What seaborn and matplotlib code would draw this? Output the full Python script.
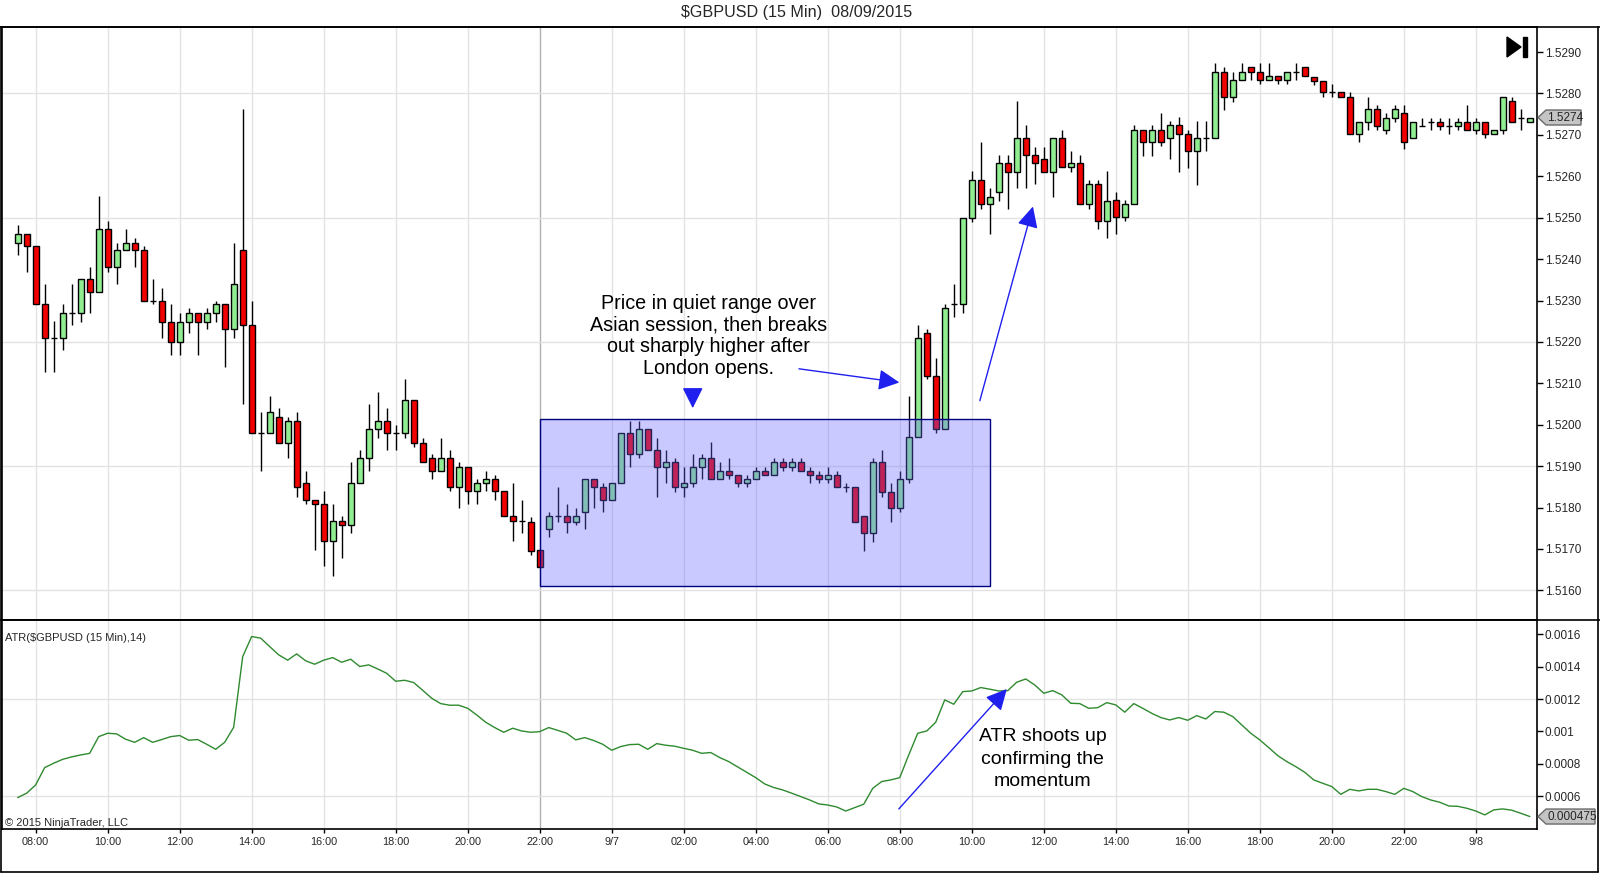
import numpy as np
import matplotlib
matplotlib.use("Agg")
import matplotlib.pyplot as plt
import seaborn as sns
from matplotlib.patches import Rectangle, Polygon
from matplotlib.lines import Line2D
from matplotlib.transforms import IdentityTransform

# 15 min bars, 9/6 07:30 -> 9/8 01:30
opens = [
    1.52440, 1.52461, 1.52431, 1.52291, 1.52209, 1.52209, 1.52270, 1.52269, 1.52351, 1.52320,
    1.52472, 1.52380, 1.52421, 1.52440, 1.52421, 1.52300, 1.52300, 1.52249, 1.52199, 1.52249,
    1.52269, 1.52249, 1.52269, 1.52291, 1.52230, 1.52421, 1.52240, 1.51979, 1.51979, 1.52018,
    1.51957, 1.52008, 1.51858, 1.51817, 1.51808, 1.51718, 1.51767, 1.51757, 1.51858, 1.51919,
    1.51989, 1.52008, 1.51979, 1.51979, 1.52059, 1.51957, 1.51919, 1.51888, 1.51919, 1.51849,
    1.51899, 1.51840, 1.51858, 1.51868, 1.51840, 1.51779, 1.51767, 1.51766, 1.51698, 1.51747,
    1.51779, 1.51779, 1.51766, 1.51788, 1.51868, 1.51849, 1.51818, 1.51858, 1.51979, 1.51929,
    1.51989, 1.51939, 1.51899, 1.51909, 1.51849, 1.51858, 1.51899, 1.51919, 1.51868, 1.51888,
    1.51878, 1.51858, 1.51868, 1.51888, 1.51878, 1.51909, 1.51899, 1.51909, 1.51888, 1.51878,
    1.51868, 1.51878, 1.51849, 1.51849, 1.51779, 1.51738, 1.51909, 1.51838, 1.51798, 1.51868,
    1.51971, 1.52221, 1.52118, 1.51989, 1.52291, 1.52291, 1.52500, 1.52591, 1.52532, 1.52561,
    1.52631, 1.52611, 1.52692, 1.52651, 1.52641, 1.52611, 1.52692, 1.52622, 1.52631, 1.52532,
    1.52581, 1.52492, 1.52543, 1.52501, 1.52533, 1.52712, 1.52682, 1.52712, 1.52692, 1.52724,
    1.52701, 1.52662, 1.52692, 1.52692, 1.52853, 1.52792, 1.52833, 1.52863, 1.52853, 1.52833,
    1.52842, 1.52833, 1.52853, 1.52863, 1.52841, 1.52831, 1.52803, 1.52803, 1.52792, 1.52702,
    1.52732, 1.52762, 1.52712, 1.52742, 1.52752, 1.52692, 1.52722, 1.52732, 1.52732, 1.52722,
    1.52722, 1.52732, 1.52712, 1.52732, 1.52702, 1.52712, 1.52782, 1.52740, 1.52732,
]
highs = [
    1.52482, 1.52461, 1.52431, 1.52341, 1.52250, 1.52291, 1.52341, 1.52351, 1.52380, 1.52552,
    1.52492, 1.52440, 1.52472, 1.52450, 1.52431, 1.52351, 1.52329, 1.52291, 1.52269, 1.52281,
    1.52269, 1.52281, 1.52300, 1.52291, 1.52440, 1.52762, 1.52300, 1.52030, 1.52069, 1.52040,
    1.52018, 1.52030, 1.51888, 1.51817, 1.51840, 1.51808, 1.51779, 1.51909, 1.51939, 1.52050,
    1.52078, 1.52040, 1.51999, 1.52110, 1.52059, 1.51969, 1.51929, 1.51969, 1.51939, 1.51909,
    1.51899, 1.51868, 1.51888, 1.51878, 1.51840, 1.51858, 1.51818, 1.51778, 1.51698, 1.51788,
    1.51849, 1.51808, 1.51798, 1.51868, 1.51868, 1.51858, 1.51858, 1.51979, 1.52010, 1.52010,
    1.51989, 1.51969, 1.51939, 1.51919, 1.51899, 1.51929, 1.51929, 1.51959, 1.51909, 1.51919,
    1.51878, 1.51878, 1.51899, 1.51899, 1.51919, 1.51919, 1.51919, 1.51919, 1.51899, 1.51888,
    1.51899, 1.51888, 1.51858, 1.51849, 1.51779, 1.51919, 1.51939, 1.51858, 1.51888, 1.52069,
    1.52240, 1.52230, 1.52160, 1.52291, 1.52341, 1.52500, 1.52613, 1.52682, 1.52571, 1.52651,
    1.52651, 1.52782, 1.52724, 1.52671, 1.52671, 1.52692, 1.52712, 1.52662, 1.52651, 1.52591,
    1.52591, 1.52613, 1.52563, 1.52543, 1.52724, 1.52712, 1.52724, 1.52754, 1.52734, 1.52744,
    1.52712, 1.52734, 1.52734, 1.52873, 1.52863, 1.52853, 1.52873, 1.52863, 1.52873, 1.52873,
    1.52842, 1.52853, 1.52873, 1.52863, 1.52841, 1.52831, 1.52823, 1.52803, 1.52803, 1.52732,
    1.52792, 1.52772, 1.52752, 1.52772, 1.52772, 1.52732, 1.52742, 1.52742, 1.52742, 1.52742,
    1.52742, 1.52772, 1.52742, 1.52732, 1.52712, 1.52792, 1.52792, 1.52762, 1.52742,
]
lows = [
    1.52411, 1.52370, 1.52291, 1.52128, 1.52128, 1.52180, 1.52240, 1.52249, 1.52269, 1.52320,
    1.52370, 1.52341, 1.52421, 1.52380, 1.52300, 1.52291, 1.52209, 1.52168, 1.52168, 1.52221,
    1.52168, 1.52230, 1.52249, 1.52139, 1.52209, 1.52050, 1.51979, 1.51887, 1.51979, 1.51957,
    1.51919, 1.51826, 1.51808, 1.51697, 1.51659, 1.51635, 1.51677, 1.51738, 1.51858, 1.51888,
    1.51969, 1.51939, 1.51939, 1.51969, 1.51947, 1.51909, 1.51868, 1.51888, 1.51840, 1.51798,
    1.51808, 1.51808, 1.51840, 1.51818, 1.51779, 1.51718, 1.51738, 1.51685, 1.51657, 1.51728,
    1.51766, 1.51738, 1.51758, 1.51747, 1.51798, 1.51788, 1.51818, 1.51858, 1.51899, 1.51919,
    1.51939, 1.51826, 1.51858, 1.51838, 1.51826, 1.51849, 1.51868, 1.51868, 1.51868, 1.51868,
    1.51849, 1.51849, 1.51868, 1.51878, 1.51878, 1.51888, 1.51888, 1.51888, 1.51858, 1.51858,
    1.51858, 1.51849, 1.51838, 1.51766, 1.51695, 1.51717, 1.51826, 1.51766, 1.51788, 1.51858,
    1.51971, 1.52110, 1.51979, 1.51989, 1.52259, 1.52269, 1.52490, 1.52520, 1.52460, 1.52541,
    1.52520, 1.52571, 1.52571, 1.52581, 1.52611, 1.52551, 1.52622, 1.52611, 1.52532, 1.52520,
    1.52472, 1.52450, 1.52460, 1.52491, 1.52533, 1.52649, 1.52649, 1.52672, 1.52641, 1.52611,
    1.52621, 1.52579, 1.52662, 1.52692, 1.52760, 1.52780, 1.52833, 1.52833, 1.52822, 1.52833,
    1.52822, 1.52822, 1.52833, 1.52842, 1.52821, 1.52792, 1.52792, 1.52792, 1.52702, 1.52682,
    1.52712, 1.52712, 1.52702, 1.52732, 1.52667, 1.52692, 1.52722, 1.52712, 1.52712, 1.52702,
    1.52712, 1.52712, 1.52702, 1.52692, 1.52702, 1.52702, 1.52732, 1.52712, 1.52732,
]
closes = [
    1.52461, 1.52431, 1.52291, 1.52209, 1.52209, 1.52269, 1.52270, 1.52351, 1.52320, 1.52472,
    1.52380, 1.52421, 1.52440, 1.52421, 1.52300, 1.52300, 1.52249, 1.52199, 1.52249, 1.52269,
    1.52249, 1.52269, 1.52291, 1.52230, 1.52341, 1.52240, 1.51979, 1.51979, 1.52030, 1.51957,
    1.52008, 1.51849, 1.51817, 1.51808, 1.51718, 1.51767, 1.51757, 1.51858, 1.51919, 1.51989,
    1.52008, 1.51979, 1.51979, 1.52059, 1.51957, 1.51909, 1.51888, 1.51919, 1.51849, 1.51899,
    1.51840, 1.51858, 1.51868, 1.51840, 1.51779, 1.51767, 1.51767, 1.51696, 1.51657, 1.51779,
    1.51779, 1.51766, 1.51779, 1.51868, 1.51849, 1.51818, 1.51858, 1.51979, 1.51929, 1.51989,
    1.51939, 1.51899, 1.51909, 1.51849, 1.51858, 1.51899, 1.51919, 1.51868, 1.51888, 1.51878,
    1.51858, 1.51868, 1.51888, 1.51878, 1.51909, 1.51899, 1.51909, 1.51888, 1.51878, 1.51868,
    1.51878, 1.51849, 1.51849, 1.51766, 1.51738, 1.51909, 1.51838, 1.51798, 1.51868, 1.51971,
    1.52209, 1.52118, 1.51989, 1.52281, 1.52291, 1.52500, 1.52591, 1.52532, 1.52551, 1.52631,
    1.52611, 1.52692, 1.52651, 1.52631, 1.52611, 1.52692, 1.52622, 1.52631, 1.52532, 1.52581,
    1.52492, 1.52541, 1.52501, 1.52533, 1.52712, 1.52682, 1.52712, 1.52682, 1.52724, 1.52701,
    1.52662, 1.52692, 1.52692, 1.52853, 1.52792, 1.52833, 1.52853, 1.52853, 1.52833, 1.52842,
    1.52833, 1.52853, 1.52853, 1.52842, 1.52831, 1.52803, 1.52803, 1.52792, 1.52702, 1.52732,
    1.52762, 1.52722, 1.52742, 1.52762, 1.52682, 1.52732, 1.52722, 1.52732, 1.52722, 1.52722,
    1.52732, 1.52712, 1.52732, 1.52702, 1.52712, 1.52792, 1.52732, 1.52740, 1.52742,
]
atr = [
    0.000592, 0.000619, 0.000670, 0.000777, 0.000804, 0.000828, 0.000843, 0.000855, 0.000865, 0.000968,
    0.000989, 0.000985, 0.000952, 0.000933, 0.000962, 0.000933, 0.000950, 0.000968, 0.000975, 0.000946,
    0.000950, 0.000921, 0.000890, 0.000933, 0.001026, 0.001462, 0.001586, 0.001576, 0.001524, 0.001473,
    0.001440, 0.001479, 0.001436, 0.001415, 0.001440, 0.001456, 0.001427, 0.001446, 0.001401, 0.001411,
    0.001386, 0.001359, 0.001310, 0.001316, 0.001302, 0.001254, 0.001205, 0.001172, 0.001162, 0.001162,
    0.001143, 0.001102, 0.001057, 0.001024, 0.000995, 0.001020, 0.001003, 0.000995, 0.000999, 0.001024,
    0.001007, 0.000989, 0.000948, 0.000962, 0.000944, 0.000921, 0.000884, 0.000907, 0.000919, 0.000921,
    0.000890, 0.000925, 0.000915, 0.000909, 0.000896, 0.000884, 0.000865, 0.000870, 0.000839, 0.000814,
    0.000781, 0.000748, 0.000715, 0.000676, 0.000654, 0.000639, 0.000619, 0.000598, 0.000577, 0.000553,
    0.000546, 0.000534, 0.000509, 0.000530, 0.000551, 0.000649, 0.000691, 0.000701, 0.000715, 0.000855,
    0.000989, 0.001003, 0.001057, 0.001195, 0.001168, 0.001246, 0.001250, 0.001271, 0.001261, 0.001250,
    0.001252, 0.001304, 0.001324, 0.001287, 0.001236, 0.001252, 0.001226, 0.001174, 0.001172, 0.001143,
    0.001147, 0.001178, 0.001164, 0.001119, 0.001172, 0.001143, 0.001112, 0.001086, 0.001071, 0.001086,
    0.001069, 0.001098, 0.001077, 0.001123, 0.001119, 0.001092, 0.001040, 0.000989, 0.000948, 0.000900,
    0.000851, 0.000814, 0.000783, 0.000748, 0.000701, 0.000680, 0.000660, 0.000612, 0.000643, 0.000633,
    0.000643, 0.000643, 0.000629, 0.000612, 0.000649, 0.000629, 0.000598, 0.000577, 0.000563, 0.000540,
    0.000538, 0.000526, 0.000509, 0.000485, 0.000516, 0.000522, 0.000514, 0.000495, 0.000475,
]

time_labels = ["08:00", "10:00", "12:00", "14:00", "16:00", "18:00", "20:00", "22:00", "9/7",
               "02:00", "04:00", "06:00", "08:00", "10:00", "12:00", "14:00", "16:00", "18:00",
               "20:00", "22:00", "9/8"]
price_ticks = [1.5160, 1.5170, 1.5180, 1.5190, 1.5200, 1.5210, 1.5220, 1.5230, 1.5240,
               1.5250, 1.5260, 1.5270, 1.5280, 1.5290]
price_grid = [1.5160, 1.5190, 1.5220, 1.5250, 1.5280]
atr_ticks = [0.0006, 0.0008, 0.001, 0.0012, 0.0014, 0.0016]
atr_tick_labels = ["0.0006", "0.0008", "0.001", "0.0012", "0.0014", "0.0016"]
atr_grid = [0.0006, 0.0012]

# Asian range box (bar index / price)
box_bars = (59, 109)
box_prices = (1.51611, 1.52013)

sns.set_theme(style="white")
plt.rcParams["font.family"] = ["Liberation Sans", "DejaVu Sans"]

W, H = 1600, 874
fig = plt.figure(figsize=(16, 8.74), dpi=100)
ax = fig.add_axes([2 / W, 1 - 620 / H, 1535 / W, 593 / H])
ax2 = fig.add_axes([2 / W, 1 - 829 / H, 1535 / W, 209 / H], sharex=ax)

x = np.arange(1, len(opens) + 1)
o = np.array(opens)
hi = np.array(highs)
lo = np.array(lows)
c = np.array(closes)
body_col = np.where(c > o, "#90ee90", np.where(c < o, "#f20000", "#000000"))

tick_pos = 3 + 8 * np.arange(len(time_labels))
for a in (ax, ax2):
    for i, t in enumerate(tick_pos):
        a.axvline(t, color="#b0b0b0" if i == 7 else "#e3e3e3", lw=1, zorder=0)
for g in price_grid:
    ax.axhline(g, color="#e3e3e3", lw=1, zorder=0)
for g in atr_grid:
    ax2.axhline(g, color="#e3e3e3", lw=1, zorder=0)

# candles
ax.vlines(x, lo, hi, color="black", lw=1, zorder=2)
ax.bar(x, np.abs(c - o), bottom=np.minimum(o, c), width=0.68, color=body_col,
       edgecolor="black", linewidth=1, zorder=3)

ax.add_patch(Rectangle((box_bars[0], box_prices[0]), box_bars[1] - box_bars[0],
                       box_prices[1] - box_prices[0], facecolor=(0.4, 0.4, 1.0, 0.35),
                       edgecolor="#000080", lw=1, zorder=4))

# ATR
sns.lineplot(x=x, y=atr, ax=ax2, color="#2f8a2f", linewidth=1)
ax2.set_xlabel("")
ax2.set_ylabel("")

ax.set_xlim(-0.74, 169.8)
ax.set_ylim(1.515283, 1.529606)
ax2.set_ylim(0.000398, 0.001688)

ax.yaxis.tick_right()
ax.set_yticks(price_ticks)
ax.set_yticklabels([f"{p:.4f}" for p in price_ticks])
ax.tick_params(axis="y", right=True, left=False, length=4, width=1, pad=1.5,
               labelsize=8.5, direction="out", color="black")
ax.tick_params(axis="x", bottom=False, labelbottom=False)

ax2.yaxis.tick_right()
ax2.set_yticks(atr_ticks)
ax2.set_yticklabels(atr_tick_labels)
ax2.tick_params(axis="y", right=True, left=False, length=4, width=1, pad=1.5,
                labelsize=8.5, direction="out", color="black")
ax2.set_xticks(tick_pos)
ax2.set_xticklabels(time_labels)
ax2.tick_params(axis="x", bottom=True, length=3, width=1, pad=3, labelsize=7.8,
                direction="out", color="black")

for a in (ax, ax2):
    for s in a.spines.values():
        s.set_color("black")
        s.set_linewidth(1.2)

# annotations
arrow_kw = dict(arrowstyle="-|>,head_length=0.4,head_width=0.2", color="#2020ee",
                lw=1, shrinkA=0, shrinkB=0, mutation_scale=32)
ax.text(77.8, 1.52214, "Price in quiet range over\nAsian session, then breaks\n"
        "out sharply higher after\nLondon opens.", ha="center", va="center",
        fontsize=14.2, linespacing=1.18, color="black", zorder=6)
ax.annotate("", xy=(76.0, 1.52040), xytext=(76.0, 1.52080), arrowprops=arrow_kw, zorder=6)
ax.annotate("", xy=(98.96, 1.52102), xytext=(87.8, 1.52135), arrowprops=arrow_kw, zorder=6)
ax.annotate("", xy=(113.8, 1.52527), xytext=(107.9, 1.52058), arrowprops=arrow_kw, zorder=6)

ax2.text(114.9, 0.00083, "ATR shoots up\nconfirming the\nmomentum", ha="center",
         va="center", fontsize=14, linespacing=1.45, color="black")
ax2.annotate("", xy=(110.9, 0.001262), xytext=(98.9, 0.000522), arrowprops=arrow_kw)

ax2.text(0.002, 0.914, r"ATR(\$GBPUSD (15 Min),14)", transform=ax2.transAxes,
         fontsize=8, va="center", ha="left")
ax2.text(0.002, 0.03, "© 2015 NinjaTrader, LLC", transform=ax2.transAxes,
         fontsize=8, va="center", ha="left")

fig.text(797 / W, 1 - 13 / H, r"\$GBPUSD (15 Min)  08/09/2015", ha="center",
         va="center", fontsize=11.6)

# frame lines
def fig_line(x0, y0, x1, y1, lw=1.2):
    fig.add_artist(Line2D([x0 / W, x1 / W], [1 - y0 / H, 1 - y1 / H],
                          transform=fig.transFigure, color="black", lw=lw))

fig_line(0, 27, W, 27)
fig_line(0, 620, W, 620)
fig_line(1, 27, 1, 872)
fig_line(1598, 27, 1598, 872)
fig_line(1, 872, 1598, 872)

# scroll-to-end icon
fig.add_artist(Polygon([(1507 / W, 1 - 37 / H), (1507 / W, 1 - 57 / H), (1521 / W, 1 - 47 / H)],
                       closed=True, transform=fig.transFigure, color="black"))
fig.add_artist(Rectangle((1523 / W, 1 - 57 / H), 4 / W, 20 / H, transform=fig.transFigure,
                         color="black"))


def value_tag(axis, value, label, width):
    yp = axis.transData.transform((1, value))[1]
    x0 = axis.transAxes.transform((1, 0))[0]
    pts = [(x0 + 1, yp), (x0 + 9, yp + 7.5), (x0 + width, yp + 7.5),
           (x0 + width, yp - 7.5), (x0 + 9, yp - 7.5)]
    fig.add_artist(Polygon(pts, closed=True, transform=IdentityTransform(),
                           facecolor="#c4c4c4", edgecolor="#6a6a6a", lw=1))
    fig.text(x0 + 10, yp, label, transform=IdentityTransform(), fontsize=8.5,
             va="center", ha="left")


value_tag(ax, closes[-1], f"{closes[-1]:.4f}", 44)
value_tag(ax2, atr[-1], f"{atr[-1]:.6f}", 58)

fig.savefig("out.png", dpi=100)
